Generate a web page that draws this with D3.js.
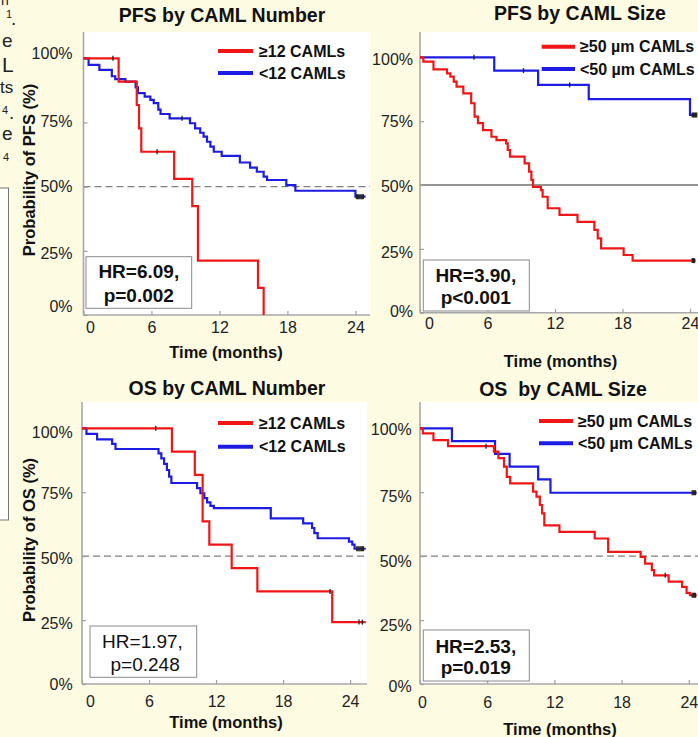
<!DOCTYPE html>
<html>
<head>
<meta charset="utf-8">
<script src="https://d3js.org/d3.v7.min.js"></script>
<style>
body { margin: 0; background: #fdfbe2; }
svg { display: block; font-family: "Liberation Sans", Arial, sans-serif; }
</style>
</head>
<body>
<div id="chart"></div>
<script>
var W = 698, H = 737;

var monthTicks = [0, 6, 12, 18, 24];
var probTicks = [0, 0.25, 0.5, 0.75, 1];

// PFS by CAML Number  [month, survival]
var pfsNumHigh = [[0,1],[3.1,0.909],[4.7,0.818],[4.9,0.727],[5.1,0.636],[8.0,0.530],[9.6,0.424],[10.1,0.212],[15.4,0.106],[15.9,0]];
var pfsNumLow = [[0,1],[0.45,0.974],[1.4,0.955],[2.5,0.93],[2.8,0.919],[3.7,0.909],[4.6,0.887],[4.8,0.864],[5.4,0.851],[5.9,0.838],[6.2,0.825],[6.6,0.80],[6.8,0.783],[7.6,0.766],[9.4,0.747],[9.85,0.727],[10.3,0.71],[10.6,0.695],[10.9,0.675],[11.2,0.656],[11.5,0.636],[12.2,0.62],[13.8,0.594],[14.7,0.574],[15.3,0.558],[15.9,0.539],[16.2,0.526],[17.9,0.506],[18.7,0.484],[24.0,0.461],[24.9,0.461]];
var pfsNumHighCens = [[2.6,1],[6.5,0.636]];
var pfsNumLowCens = [[8.7,0.766],[24.1,0.461],[24.2,0.461],[24.3,0.461],[24.4,0.461],[24.5,0.461],[24.6,0.461],[24.7,0.461]];

// PFS by CAML Size
var pfsSizeHigh = [[0,1],[0.3,0.983],[1.2,0.953],[2.4,0.937],[2.7,0.924],[3.0,0.905],[3.25,0.885],[3.85,0.859],[4.55,0.82],[4.85,0.768],[5.15,0.742],[5.6,0.715],[6.35,0.689],[6.8,0.676],[7.65,0.663],[7.8,0.637],[8.0,0.611],[9.3,0.585],[9.7,0.552],[9.9,0.52],[10.05,0.493],[10.75,0.48],[10.9,0.454],[11.35,0.409],[12.4,0.383],[14.0,0.356],[15.5,0.324],[15.8,0.291],[16.1,0.252],[18.1,0.226],[18.9,0.204],[24.5,0.204]];
var pfsSizeLow = [[0,1],[6.6,0.948],[10.5,0.892],[15.0,0.836],[24.0,0.774],[24.6,0.774]];
var pfsSizeHighCens = [[24.2,0.204],[24.3,0.204],[24.4,0.204]];
var pfsSizeLowCens = [[4.8,1],[9.2,0.948],[13.3,0.892],[24.2,0.774],[24.3,0.774],[24.4,0.774],[24.5,0.774],[24.6,0.774]];

// OS by CAML Number
var osNumHigh = [[0,1],[8.05,0.909],[10.1,0.818],[10.8,0.636],[11.4,0.545],[13.4,0.453],[15.7,0.362],[22.4,0.242],[25.4,0.242]];
var osNumLow = [[0,1],[0.4,0.978],[1.35,0.957],[2.7,0.939],[3.0,0.919],[6.85,0.902],[7.1,0.882],[7.35,0.861],[7.6,0.837],[7.8,0.811],[8.0,0.786],[10.3,0.766],[10.6,0.746],[10.95,0.727],[11.2,0.71],[11.5,0.697],[11.8,0.688],[16.9,0.648],[19.8,0.628],[20.6,0.61],[20.8,0.59],[21.1,0.57],[23.9,0.557],[24.2,0.545],[24.4,0.529],[25.4,0.529]];
var osNumHighCens = [[6.6,1],[22.2,0.362],[24.8,0.242],[25.1,0.242]];
var osNumLowCens = [[24.6,0.529],[24.7,0.529],[24.8,0.529],[24.9,0.529],[25.0,0.529],[25.1,0.529],[25.2,0.529]];

// OS by CAML Size
var osSizeHigh = [[0,1],[0.25,0.98],[1.2,0.954],[2.5,0.93],[6.6,0.909],[7.0,0.883],[7.5,0.85],[7.75,0.81],[8.05,0.785],[10.1,0.752],[10.4,0.733],[10.7,0.70],[10.9,0.667],[11.1,0.62],[12.45,0.595],[15.6,0.569],[16.8,0.517],[19.7,0.497],[20.1,0.471],[20.7,0.445],[20.9,0.425],[22.2,0.40],[23.4,0.38],[23.8,0.356],[24.1,0.347],[24.7,0.347]];
var osSizeLow = [[0,1],[2.85,0.95],[6.7,0.90],[8.0,0.85],[10.55,0.80],[11.65,0.748],[24.7,0.748]];
var osSizeHighCens = [[5.9,0.93],[21.9,0.425],[24.3,0.347],[24.4,0.347],[24.5,0.347],[24.6,0.347]];
var osSizeLowCens = [[24.3,0.748],[24.4,0.748],[24.5,0.748],[24.6,0.748]];

var red = "#f01616", blue = "#1c1ce2";

var panels = [
  { title: "PFS by CAML Number", high: pfsNumHigh, low: pfsNumLow, highCens: pfsNumHighCens, lowCens: pfsNumLowCens,
    highLabel: "\u226512 CAMLs", lowLabel: "<12 CAMLs", hr: ["HR=6.09,", "p=0.002"], hrBold: true,
    ylab: "Probability of PFS (%)", solidMid: false,
    left: 83.5, right: 370, top: 32, bottom: 315, y100: 58.3, ppm: 11.33,
    titleX: 222, titleY: 22, leg: [218, 253, 51, 73, 259], box: [86, 256.7, 105.7, 51.6, 138.8, 278.3, 301.5],
    yPad: 11, xPad: 6.5, zeroDx: 6.5, yNudge: [-9, 3, 0, -1.5, -5], timeX: 226, timeY: 358, ylabX: 29, ylabY: 170 },
  { title: "PFS by CAML Size", high: pfsSizeHigh, low: pfsSizeLow, highCens: pfsSizeHighCens, lowCens: pfsSizeLowCens,
    highLabel: "\u226550 \u00b5m CAMLs", lowLabel: "<50 \u00b5m CAMLs", hr: ["HR=3.90,", "p<0.001"], hrBold: true,
    ylab: null, solidMid: true,
    left: 420, right: 698, top: 32, bottom: 312.7, y100: 57.3, ppm: 11.25,
    titleX: 580, titleY: 20, leg: [541.7, 575, 46.7, 69, 580], box: [423.3, 260, 106, 51, 475.8, 281.7, 304],
    yPad: 7, xPad: 4.5, zeroDx: 9, yNudge: [-1.5, 4, 1, 0, 2.4], timeX: 560.5, timeY: 366.5 },
  { title: "OS by CAML Number", high: osNumHigh, low: osNumLow, highCens: osNumHighCens, lowCens: osNumLowCens,
    highLabel: "\u226512 CAMLs", lowLabel: "<12 CAMLs", hr: ["HR=1.97,", " p=0.248"], hrBold: false,
    ylab: "Probability of OS (%)", solidMid: false,
    left: 82, right: 367, top: 402, bottom: 684, y100: 428.3, ppm: 11.17,
    titleX: 227, titleY: 395, leg: [218, 253, 423, 446.7, 259], box: [90, 626, 106.7, 51.3, 142.5, 648.3, 671],
    yPad: 9.3, xPad: 11.5, zeroDx: 8, yNudge: [0, 3, 2, 1, 4], timeX: 226, timeY: 728, ylabX: 29, ylabY: 540 },
  { title: "OS  by CAML Size", high: osSizeHigh, low: osSizeLow, highCens: osSizeHighCens, lowCens: osSizeLowCens,
    highLabel: "\u226550 \u00b5m CAMLs", lowLabel: "<50 \u00b5m CAMLs", hr: ["HR=2.53,", "p=0.019"], hrBold: true,
    ylab: null, solidMid: false,
    left: 420, right: 698, top: 402, bottom: 684, y100: 428.3, ppm: 11.2,
    titleX: 563, titleY: 396, leg: [539, 573, 421, 443.3, 578], box: [423.3, 630, 106, 51, 475.8, 652.7, 674],
    yPad: 8.3, xPad: 12.5, zeroDx: 2, yNudge: [2, 5, 5, 4, 1.5], timeX: 560, timeY: 735 }
];

var svg = d3.select("#chart").append("svg")
  .attr("width", W).attr("height", H)
  .style("background", "#fdfbe2");

// Cut-off fragments of the neighbouring figure text on the left
var frag = svg.append("g").attr("fill", "#222").style("font-size", "19px");
frag.append("text").attr("x", 1).attr("y", 5).style("font-size", "14px").text("n");
frag.append("text").attr("x", 6).attr("y", 18).style("font-size", "11px").text("1");
frag.append("text").attr("x", 11).attr("y", 25).text(".");
frag.append("text").attr("x", 2).attr("y", 47).text("e");
frag.append("text").attr("x", 2).attr("y", 72).style("font-size", "21px").text("L");
frag.append("text").attr("x", 0).attr("y", 93).style("font-size", "17px").text("ts");
frag.append("text").attr("x", 2).attr("y", 114).style("font-size", "11px").text("4");
frag.append("text").attr("x", 9).attr("y", 119).text(".");
frag.append("text").attr("x", 2).attr("y", 140).text("e");
frag.append("text").attr("x", 3).attr("y", 161).style("font-size", "11px").text("4");
svg.append("rect").attr("x", -2).attr("y", 188).attr("width", 10.5).attr("height", 332)
  .attr("fill", "#fefefa").attr("stroke", "#777").attr("stroke-width", 1);

panels.forEach(function (p) {
  var x = d3.scaleLinear().domain([0, 24]).range([p.left, p.left + 24 * p.ppm]);
  var y = d3.scaleLinear().domain([0, 1]).range([p.bottom, p.y100]);
  var g = svg.append("g");

  // white plotting area
  g.append("rect")
    .attr("x", p.left).attr("y", p.top)
    .attr("width", p.right - p.left).attr("height", p.bottom - p.top)
    .attr("fill", "#ffffff");

  // 50% reference line
  g.append("line")
    .attr("x1", p.left).attr("x2", p.right)
    .attr("y1", y(0.5)).attr("y2", y(0.5))
    .attr("stroke", p.solidMid ? "#707070" : "#808080")
    .attr("stroke-width", 1.3)
    .attr("stroke-dasharray", p.solidMid ? null : "7,4");

  // axes
  var xAxis = g.append("g")
    .attr("transform", "translate(0," + p.bottom + ")")
    .call(d3.axisBottom(x).tickValues(monthTicks).tickSizeInner(-4).tickSizeOuter(0).tickPadding(p.xPad));
  xAxis.select(".domain").attr("d", "M" + p.left + ",0H" + p.right);
  xAxis.selectAll("text")
    .attr("dx", function (d) { return d === 0 ? p.zeroDx : 0; });

  var yAxis = g.append("g")
    .attr("transform", "translate(" + p.left + ",0)")
    .call(d3.axisLeft(y).tickValues(probTicks).tickSizeInner(-4).tickSizeOuter(0).tickPadding(p.yPad)
      .tickFormat(function (d) { return Math.round(d * 100) + "%"; }));
  yAxis.select(".domain").attr("d", "M0," + p.top + "V" + p.bottom);
  yAxis.selectAll("text")
    .attr("transform", function (d, i) { return "translate(0," + p.yNudge[i] + ")"; });

  [xAxis, yAxis].forEach(function (a) {
    a.select(".domain").attr("stroke", "#a8a8a8").attr("stroke-width", 1.6);
    a.selectAll(".tick line").attr("stroke", "#a0a0a0").attr("stroke-width", 1.2);
    a.selectAll("text").attr("fill", "#222").style("font-size", "16px")
      .style("font-family", "'Liberation Sans', Arial, sans-serif");
  });

  // survival curves
  var step = d3.line()
    .x(function (d) { return x(d[0]); })
    .y(function (d) { return y(d[1]); })
    .curve(d3.curveStepAfter);

  [[p.low, blue], [p.high, red]].forEach(function (s) {
    g.append("path")
      .datum(s[0])
      .attr("d", step)
      .attr("fill", "none")
      .attr("stroke", s[1])
      .attr("stroke-width", 2.2);
  });

  // censor marks
  g.append("g").selectAll("line")
    .data(p.highCens.concat(p.lowCens))
    .enter().append("line")
    .attr("x1", function (d) { return x(d[0]); })
    .attr("x2", function (d) { return x(d[0]); })
    .attr("y1", function (d) { return y(d[1]) - 2.5; })
    .attr("y2", function (d) { return y(d[1]) + 2.5; })
    .attr("stroke", "#222")
    .attr("stroke-width", 1.3);

  // title
  g.append("text")
    .attr("x", p.titleX).attr("y", p.titleY)
    .attr("text-anchor", "middle")
    .style("font-size", "19.5px").style("font-weight", "bold")
    .style("white-space", "pre")
    .attr("fill", "#111")
    .text(p.title);

  // legend
  var L = p.leg;
  [[p.highLabel, red, L[2]], [p.lowLabel, blue, L[3]]].forEach(function (e) {
    g.append("line")
      .attr("x1", L[0]).attr("x2", L[1]).attr("y1", e[2]).attr("y2", e[2])
      .attr("stroke", e[1]).attr("stroke-width", 4);
    g.append("text")
      .attr("x", L[4]).attr("y", e[2] + 5.6)
      .style("font-size", "16px").style("font-weight", "bold")
      .attr("fill", "#111")
      .text(e[0]);
  });

  // hazard ratio box
  var B = p.box;
  g.append("rect")
    .attr("x", B[0]).attr("y", B[1]).attr("width", B[2]).attr("height", B[3])
    .attr("fill", "#ffffff").attr("stroke", "#8a8a8a").attr("stroke-width", 1);
  [[p.hr[0], B[5]], [p.hr[1], B[6]]].forEach(function (t) {
    g.append("text")
      .attr("x", B[4]).attr("y", t[1])
      .attr("text-anchor", "middle")
      .style("white-space", "pre")
      .style("font-size", "19px")
      .style("font-weight", p.hrBold ? "bold" : "normal")
      .attr("fill", "#111")
      .text(t[0]);
  });

  // axis titles
  g.append("text")
    .attr("x", p.timeX).attr("y", p.timeY)
    .attr("text-anchor", "middle")
    .style("font-size", "16.5px").style("font-weight", "bold")
    .attr("fill", "#111")
    .text("Time (months)");

  if (p.ylab) {
    g.append("text")
      .attr("transform", "translate(" + (p.ylabX + 6) + "," + p.ylabY + ") rotate(-90)")
      .attr("text-anchor", "middle")
      .style("font-size", "16.5px").style("font-weight", "bold")
      .attr("fill", "#111")
      .text(p.ylab);
  }
});
</script>
</body>
</html>
